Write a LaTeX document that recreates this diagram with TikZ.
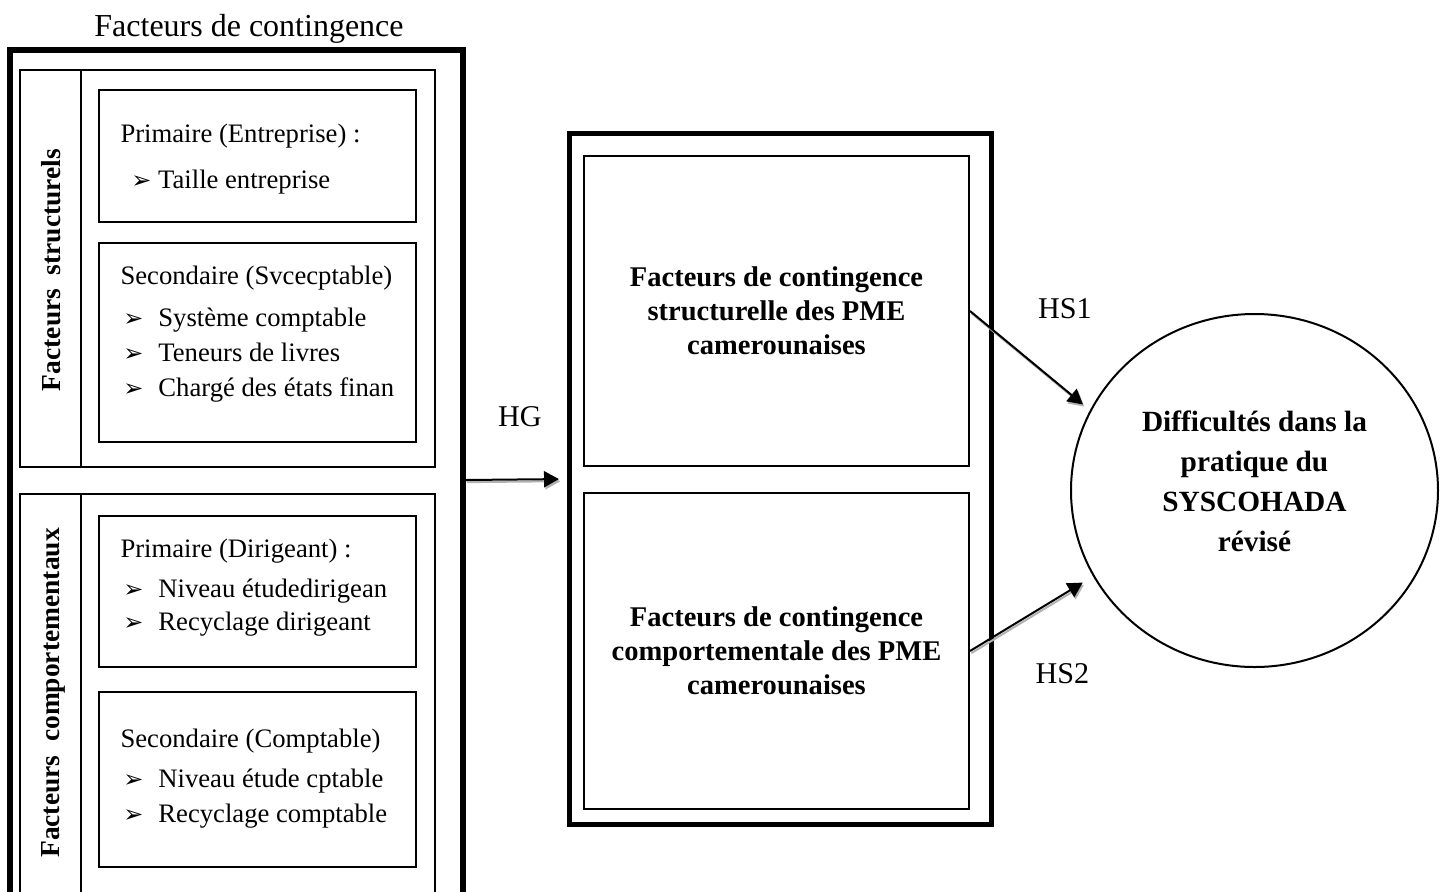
\documentclass[tikz,border=0pt]{standalone}
\usepackage{fontspec}
\setmainfont{Liberation Serif}
\newfontfamily\symbfont{DejaVu Sans}
\usetikzlibrary{positioning, arrows.meta, shapes.geometric}

\newcommand{\pxu}{0.375pt}
\newcommand{\puce}[1][13.1pt]{\makebox[#1][l]{\symbfont\fontsize{9}{9}\selectfont ➢}}

\begin{document}
\begin{tikzpicture}[x=0.375pt, y=-0.375pt,
    cadre/.style={draw, rectangle, line width=1.9pt, inner sep=0pt},
    boite/.style={draw, rectangle, line width=0.75pt, inner sep=0pt},
    liste/.style={boite, minimum width=317*\pxu},
    texte/.style={anchor=west, align=left, inner sep=0pt, font=\fontsize{10}{13.1}\selectfont},
    titre/.style={font=\bfseries\fontsize{10.7}{12.75}\selectfont, align=center},
    cote/.style={rotate=90, font=\bfseries\fontsize{10.3}{12}\selectfont},
    etiq/.style={font=\fontsize{11.3}{13}\selectfont, inner sep=0pt},
    fleche/.style={line width=0.75pt, -{Triangle[length=5.6pt,width=6pt]}},
    ombre/.style={fleche, gray!60, transform canvas={xshift=0.5pt,yshift=-0.8pt}}]
    \useasboundingbox (0,0) rectangle (1447,891);
    \clip (0,0) rectangle (1447,891);

    % bloc de gauche
    \node[font=\fontsize{12}{14}\selectfont, inner sep=0pt] (titreGen) at (249,29) {Facteurs de contingence};
    \node[cadre, minimum width=453*\pxu, minimum height=860*\pxu] (facteurs) at (236.5,480) {};
    \node[boite, minimum width=415*\pxu, minimum height=397*\pxu] (structurel) at (227.5,268.5) {};
    \node[boite, minimum width=415*\pxu, minimum height=402*\pxu] (comportemental) at (227.5,695) {};
    \draw[line width=0.75pt] (81,70) -- (81,467);
    \draw[line width=0.75pt] (81,494) -- (81,896);
    \node[cote] (labStruct) at (51,270) {Facteurs\hspace{0.5em}structurels};
    \node[cote] (labComp) at (53,693) {Facteurs\hspace{0.5em}comportementaux};

    \node[liste, minimum height=132*\pxu] (primA) at (257.5,156) {};
    \node[liste, minimum height=199*\pxu] (secA) at (257.5,342.5) {};
    \node[liste, minimum height=151*\pxu] (primB) at (257.5,591.5) {};
    \node[liste, minimum height=175*\pxu] (secB) at (257.5,779.5) {};

    \node[texte] (primAtexte) at (120,159)
        {Primaire (Entreprise) :\\[4pt]
         \hspace*{4.1pt}\puce[10pt]Taille entreprise};
    \node[texte] (secAtexte) at (120,334)
        {Secondaire (Svcecptable)\\[2.6pt]
         \hspace*{1.1pt}\puce Système comptable\\
         \hspace*{1.1pt}\puce Teneurs de livres\\
         \hspace*{1.1pt}\puce Chargé des états finan};
    \node[texte] (primBtexte) at (120,587.5)
        {Primaire (Dirigeant) :\\[2pt]
         \hspace*{1.1pt}\puce Niveau étudedirigean\\[-0.6pt]
         \hspace*{1.1pt}\puce Recyclage dirigeant};
    \node[texte] (secBtexte) at (120,778.5)
        {Secondaire (Comptable)\\[2pt]
         \hspace*{1.1pt}\puce Niveau étude cptable\\
         \hspace*{1.1pt}\puce Recyclage comptable};

    % bloc du milieu
    \node[cadre, minimum width=422*\pxu, minimum height=691*\pxu] (pme) at (780.5,479) {};
    \node[boite, titre, minimum width=385*\pxu, minimum height=310*\pxu] (haut) at (776.5,311)
        {Facteurs de contingence\\structurelle des PME\\camerounaises};
    \node[boite, titre, minimum width=385*\pxu, minimum height=316*\pxu] (bas) at (776.5,651)
        {Facteurs de contingence\\comportementale des PME\\camerounaises};

    % variable expliquee
    \node[draw, ellipse, line width=0.75pt, inner sep=0pt,
        minimum width=367*\pxu, minimum height=353*\pxu] (diff) at (1254.5,490.5) {};
    \node[align=center, inner sep=0pt, font=\bfseries\fontsize{11}{15}\selectfont]
        (diffTexte) at (1254.5,481.5) {Difficultés dans la\\pratique du\\SYSCOHADA\\révisé};

    % hypotheses
    \draw[ombre, shorten >=3pt] (facteurs.east) -- (pme.west);
    \draw[fleche, shorten >=3pt] (facteurs.east) -- (pme.west);
    \draw[ombre, shorten >=3.4pt] (haut.east) -- (diff.154);
    \draw[fleche, shorten >=3.4pt] (haut.east) -- (diff.154);
    \draw[ombre, shorten >=4.5pt] (bas.east) -- (diff.208);
    \draw[fleche, shorten >=4.5pt] (bas.east) -- (diff.208);
    \node[etiq] (hg) at (520,417) {HG};
    \node[etiq] (hs1) at (1065,308.5) {HS1};
    \node[etiq] (hs2) at (1062.5,673.5) {HS2};
\end{tikzpicture}
\end{document}
